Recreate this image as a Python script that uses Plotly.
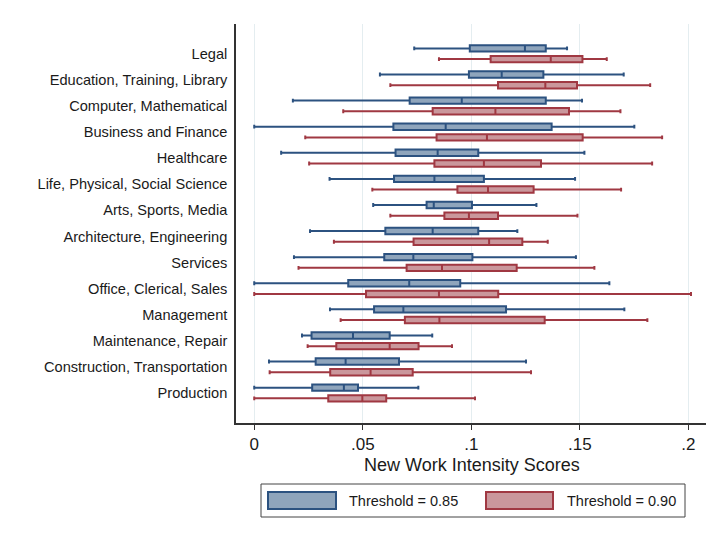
"""
Box plots of new work intensity scores by occupation group, two thresholds
"""

import plotly.graph_objects as go

categories = [
    'Legal', 'Education, Training, Library', 'Computer, Mathematical',
    'Business and Finance', 'Healthcare', 'Life, Physical, Social Science',
    'Arts, Sports, Media', 'Architecture, Engineering', 'Services',
    'Office, Clerical, Sales', 'Management', 'Maintenance, Repair',
    'Construction, Transportation', 'Production'
]

# threshold = 0.85
low_85 = [0.0737, 0.0579, 0.0178, 0.0, 0.0124, 0.0347, 0.0548, 0.0257, 0.0183, 0.0, 0.0349, 0.0220, 0.0068, 0.0]
q1_85 = [0.0993, 0.0989, 0.0716, 0.0641, 0.0651, 0.0644, 0.0794, 0.0604, 0.0599, 0.0433, 0.0552, 0.0264, 0.0283, 0.0267]
med_85 = [0.1247, 0.1140, 0.0956, 0.0882, 0.0845, 0.0830, 0.0827, 0.0822, 0.0733, 0.0714, 0.0687, 0.0455, 0.0421, 0.0413]
q3_85 = [0.1343, 0.1332, 0.1343, 0.1370, 0.1032, 0.1058, 0.1003, 0.1032, 0.1005, 0.0949, 0.1160, 0.0624, 0.0667, 0.0478]
high_85 = [0.1441, 0.1702, 0.1510, 0.1751, 0.1521, 0.1478, 0.1300, 0.1212, 0.1482, 0.1636, 0.1705, 0.0820, 0.1252, 0.0756]

# threshold = 0.90
low_90 = [0.0851, 0.0627, 0.0410, 0.0235, 0.0253, 0.0544, 0.0627, 0.0367, 0.0204, 0.0, 0.0398, 0.0246, 0.0071, 0.0]
q1_90 = [0.1089, 0.1123, 0.0822, 0.0840, 0.0830, 0.0936, 0.0876, 0.0734, 0.0702, 0.0515, 0.0694, 0.0378, 0.0350, 0.0341]
med_90 = [0.1366, 0.1341, 0.1111, 0.1072, 0.1058, 0.1077, 0.0989, 0.1082, 0.0865, 0.0851, 0.0853, 0.0624, 0.0536, 0.0498]
q3_90 = [0.1512, 0.1487, 0.1450, 0.1513, 0.1321, 0.1287, 0.1123, 0.1235, 0.1209, 0.1124, 0.1338, 0.0757, 0.0730, 0.0608]
high_90 = [0.1624, 0.1824, 0.1687, 0.1879, 0.1833, 0.1690, 0.1489, 0.1352, 0.1567, 0.2012, 0.1811, 0.0911, 0.1275, 0.1017]

x_ticks = [0, 0.05, 0.1, 0.15, 0.2]
x_tick_text = ['0', '.05', '.1', '.15', '.2']
x_title = 'New Work Intensity Scores'
series_names = ['Threshold = 0.85', 'Threshold = 0.90']

BLUE = 'rgb(44,82,128)'
BLUE_FILL = 'rgb(143,165,188)'
RED = 'rgb(160,56,66)'
RED_FILL = 'rgb(202,151,156)'
FONT = 'Liberation Sans, Arial, sans-serif'

# page body adds an 8px offset, so the figure is laid out 8px up/left
OFF = 8
W, H = 714 - OFF, 542 - OFF
L, R, T, B = 236 - OFF, 0, 24 - OFF, 119


def px_x(p):
    return (p - OFF - L) / (W - L - R)


def px_y(p):
    return (H - B - (p - OFF)) / (H - T - B)


fig = go.Figure()

for name, lo, a, m, c, hi, line, fill in [
    (series_names[0], low_85, q1_85, med_85, q3_85, high_85, BLUE, BLUE_FILL),
    (series_names[1], low_90, q1_90, med_90, q3_90, high_90, RED, RED_FILL),
]:
    fig.add_trace(go.Box(
        name=name,
        y=categories,
        lowerfence=lo,
        q1=a,
        median=m,
        q3=c,
        upperfence=hi,
        orientation='h',
        boxpoints=False,
        line=dict(color=line, width=2),
        fillcolor=fill,
        whiskerwidth=0.6,
        showlegend=False,
    ))

fig.update_layout(
    width=W, height=H,
    margin=dict(l=L, r=R, t=T, b=B),
    paper_bgcolor='white',
    plot_bgcolor='white',
    boxmode='group',
    boxgap=0.18,
    boxgroupgap=0.4,
    font=dict(family=FONT, color='#1a1a1a'),
    xaxis=dict(
        range=[-0.0084, 0.2118],
        tickvals=x_ticks,
        ticktext=x_tick_text,
        ticks='outside', ticklen=5, tickcolor='#333', tickwidth=1,
        tickfont=dict(size=17),
        showgrid=True, gridcolor='#e4edf0', gridwidth=1,
        zeroline=False,
        showline=True, linecolor='#333', linewidth=1.5,
    ),
    yaxis=dict(
        categoryorder='array',
        categoryarray=categories,
        range=[14.15, -1.14],
        showgrid=False,
        zeroline=False,
        ticks='',
        ticklabelstandoff=4,
        tickfont=dict(size=14.6),
        showline=True, linecolor='#333', linewidth=1.5,
    ),
)

# axis title placed by hand to sit close under the tick labels
fig.add_annotation(text=x_title, xref='paper', yref='paper',
                   x=px_x(472), y=px_y(465), xanchor='center', yanchor='middle',
                   showarrow=False, font=dict(size=18, family=FONT, color='#1a1a1a'))

# legend drawn as a framed box below the plot
fig.add_shape(type='rect', xref='paper', yref='paper',
              x0=px_x(261), x1=px_x(685), y0=px_y(484), y1=px_y(517),
              line=dict(color='#444', width=1), fillcolor='white')
for (x0, x1, tx), name, line, fill in [
    ((268, 336, 347), series_names[0], BLUE, BLUE_FILL),
    ((486, 553, 565), series_names[1], RED, RED_FILL),
]:
    fig.add_shape(type='rect', xref='paper', yref='paper',
                  x0=px_x(x0), x1=px_x(x1), y0=px_y(492), y1=px_y(509),
                  line=dict(color=line, width=2), fillcolor=fill)
    fig.add_annotation(text=name, xref='paper', yref='paper',
                       x=px_x(tx), y=px_y(501), xanchor='left', yanchor='middle',
                       showarrow=False, font=dict(size=14.5, family=FONT, color='#1a1a1a'))

fig.write_html("out.html")
